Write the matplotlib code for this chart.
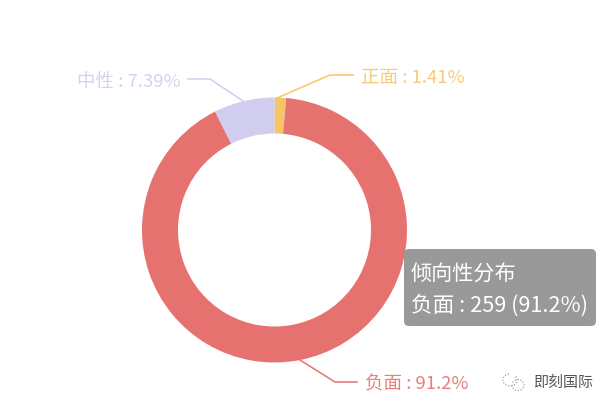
import matplotlib
matplotlib.use('Agg')
from matplotlib import pyplot as plt
from matplotlib.patches import FancyBboxPatch, Arc

plt.rcParams['font.family'] = ['Noto Sans CJK SC', 'DejaVu Sans']

names = ['正面', '负面', '中性']
counts = [4, 259, 21]
percents = ['1.41%', '91.2%', '7.39%']
colors = ['#f5c56c', '#e5726e', '#d1cdee']
tooltip_title = '倾向性分布'
tooltip_index = 1
watermark = '即刻国际'

W, H = 612, 409
fig = plt.figure(figsize=(W / 100, H / 100), dpi=100)
ax = fig.add_axes([0, 0, 1, 1])


def py(y):
    # las posiciones se leen en pixeles desde arriba
    return H - y


ax.pie(counts, colors=colors, startangle=90, counterclock=False,
       center=(274.5, py(230)), radius=132.5, frame=True,
       wedgeprops={'width': 36, 'linewidth': 0})
ax.set_xlim(0, W)
ax.set_ylim(0, H)
ax.set_aspect('equal')
ax.axis('off')

# lineas guia: (puntos de la linea, inicio del texto, altura del texto)
guides = [
    ([(277, 98), (330, 75), (353, 75)], 361, 78.5),
    ([(300, 360), (335, 382), (357, 382)], 365, 384.5),
    ([(243, 101), (210, 79), (188, 79)], 181, 81.5),
]
for i, (pts, tx, ty) in enumerate(guides):
    ax.plot([p[0] for p in pts], [py(p[1]) for p in pts],
            color=colors[i], lw=1.1, solid_joinstyle='miter')
    ha = 'right' if pts[-1][0] < pts[0][0] else 'left'
    ax.text(tx, py(ty), f'{names[i]} : {percents[i]}', color=colors[i],
            fontsize=13.3, ha=ha, va='center', alpha=0.9)

# cuadro del tooltip
box = FancyBboxPatch((408, py(322)), 184, 69,
                     boxstyle='round,pad=0,rounding_size=0.1',
                     fc='#999999', ec='#999999', lw=0)
box.set_boxstyle('round', pad=4, rounding_size=5)
ax.add_patch(box)
ax.text(411, py(274.5), tooltip_title, color='white', fontsize=15.2,
        ha='left', va='center')
ax.text(411, py(306), f'{names[tooltip_index]} : {counts[tooltip_index]} '
        f'({percents[tooltip_index]})', color='white', fontsize=15.6,
        ha='left', va='center')

# marca de agua
ax.add_patch(Arc((510, py(380)), 14, 12, color='#8a8a8a', lw=0.8, ls=':',
                 theta1=100, theta2=400))
ax.add_patch(Arc((518, py(385)), 12, 11, color='#8a8a8a', lw=0.8, ls=':',
                 theta1=180, theta2=520))
ax.text(533, py(382.5), watermark, color='#555555', fontsize=10.8,
        ha='left', va='center')

fig.savefig('out.png', dpi=100)
